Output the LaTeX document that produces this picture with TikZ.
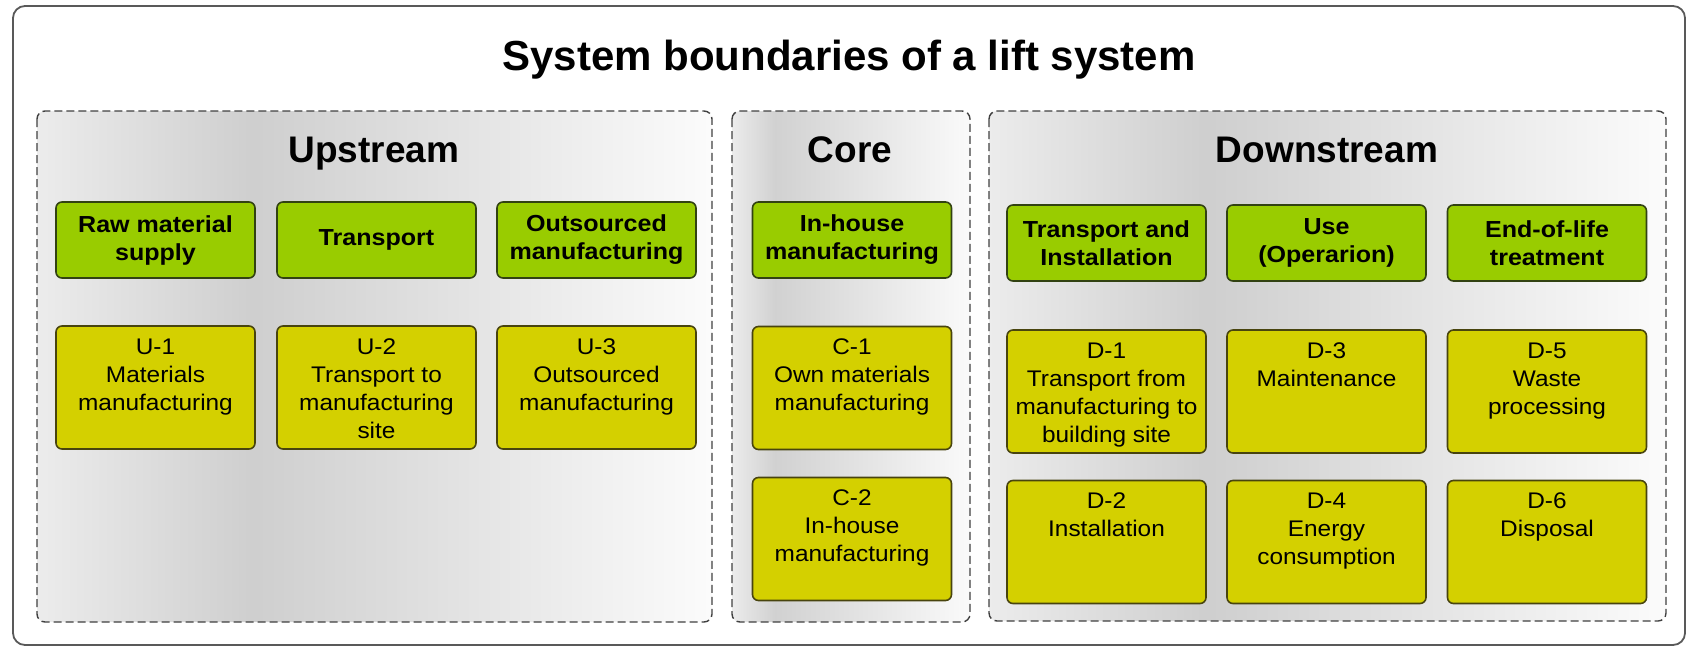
\documentclass[tikz,border=0pt]{standalone}
\usepackage{fontspec}
\setmainfont{Liberation Sans}
\newfontfamily\widesans[FakeStretch=1.08]{Liberation Sans}
\definecolor{phasegreen}{RGB}{153,204,0}
\definecolor{unityellow}{RGB}{212,208,0}
\definecolor{phaseedge}{RGB}{50,66,18}
\definecolor{unitedge}{RGB}{72,68,14}
\pgfdeclarehorizontalshading{steel}{100bp}{color(0bp)=(gray!15); color(25bp)=(gray!15);
	color(41bp)=(gray!38); color(75bp)=(gray!3); color(100bp)=(gray!3)}
\pgfdeclarehorizontalshading{steelcore}{100bp}{color(0bp)=(gray!15); color(25bp)=(gray!15);
	color(34bp)=(gray!36); color(75bp)=(gray!4); color(100bp)=(gray!4)}
\def\unittext#1{\parbox[c][49pt][t]{97pt}{\centering #1}}

\begin{document}
\begin{tikzpicture}[x=0.5pt,y=-0.5pt,
	frame/.style={draw=black!75,dash pattern=on 4pt off 2pt,line width=0.7pt,
		rounded corners=4pt,shade,shading=steel},
	head/.style={anchor=base,font=\bfseries\fontsize{18.5}{22}\selectfont},
	phase/.style={draw=phaseedge,fill=phasegreen,line width=0.8pt,rounded corners=3pt,
		minimum width=99.5pt,minimum height=38pt,inner sep=1pt,align=center,
		font=\widesans\bfseries\fontsize{11.6}{14}\selectfont},
	unit/.style={draw=unitedge,fill=unityellow,line width=0.8pt,rounded corners=3pt,
		minimum width=99.5pt,minimum height=61.5pt,inner sep=0pt,
		font=\widesans\fontsize{11.3}{14}\selectfont}]
\useasboundingbox (0,0) rectangle (1689,648);
\draw[draw=black!65,line width=0.9pt,rounded corners=6pt] (13,6) rectangle (1685,645);
\node[anchor=base,font=\bfseries\fontsize{21}{25}\selectfont] (title) at (849,70) {System boundaries of a lift system};

% the three parts
\draw[frame] (37,111) rectangle (712,622);
\draw[frame,shading=steelcore] (732,111) rectangle (970,622);
\draw[frame] (989,111) rectangle (1666,621);
\node[head] (upstream) at (374,162) {Upstream};
\node[head] (core) at (850,162) {Core};
\node[head] (downstream) at (1327,162) {Downstream};

% upstream
\node[phase] (rawmat) at (155.5,240) {Raw material\\supply};
\node[phase] (transport) at (376.5,240) {Transport};
\node[phase] (outsourced) at (596.5,240) {Outsourced\\manufacturing};
\node[unit] (u1) at (155.5,387.5) {\unittext{U-1\\Materials\\manufacturing}};
\node[unit] (u2) at (376.5,387.5) {\unittext{U-2\\Transport to\\manufacturing\\site}};
\node[unit] (u3) at (596.5,387.5) {\unittext{U-3\\Outsourced\\manufacturing}};

% core
\node[phase] (inhouse) at (852,240) {In-house\\manufacturing};
\node[unit] (c1) at (852,388) {\unittext{C-1\\Own materials\\manufacturing}};
\node[unit] (c2) at (852,539) {\unittext{C-2\\In-house\\manufacturing}};

% downstream
\node[phase] (install) at (1106.5,243) {Transport and\\Installation};
\node[phase] (use) at (1326.5,243) {Use\\(Operarion)};
\node[phase] (endoflife) at (1547,243) {End-of-life\\treatment};
\node[unit] (d1) at (1106.5,391.5) {\unittext{D-1\\Transport from\\manufacturing to\\building site}};
\node[unit] (d3) at (1326.5,391.5) {\unittext{D-3\\Maintenance}};
\node[unit] (d5) at (1547,391.5) {\unittext{D-5\\Waste\\processing}};
\node[unit] (d2) at (1106.5,542) {\unittext{D-2\\Installation}};
\node[unit] (d4) at (1326.5,542) {\unittext{D-4\\Energy\\consumption}};
\node[unit] (d6) at (1547,542) {\unittext{D-6\\Disposal}};
\end{tikzpicture}
\end{document}
